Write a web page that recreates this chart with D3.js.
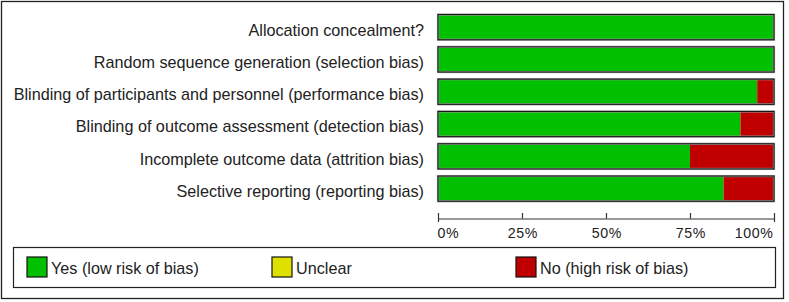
<!DOCTYPE html>
<html><head><meta charset="utf-8">
<script src="https://cdn.jsdelivr.net/npm/d3@7"></script>
<style>body{margin:0;background:#fff}svg{display:block}</style>
</head><body>
<svg id="c" width="789" height="302"></svg>
<script>
const categories = [
  "Allocation concealment?",
  "Random sequence generation (selection bias)",
  "Blinding of participants and personnel (performance bias)",
  "Blinding of outcome assessment (detection bias)",
  "Incomplete outcome data (attrition bias)",
  "Selective reporting (reporting bias)"
];
const yesValues = [100, 100, 95, 90, 75, 85];
const unclearValues = [0, 0, 0, 0, 0, 0];
const noValues = [0, 0, 5, 10, 25, 15];
const tickValues = [0, 25, 50, 75, 100];
const tickLabels = ["0%", "25%", "50%", "75%", "100%"];
const legendLabels = ["Yes (low risk of bias)", "Unclear", "No (high risk of bias)"];
const colors = ["#00c000", "#e0e000", "#c00000"];

const svg = d3.select("#c");
const font = "'Liberation Sans', Arial, sans-serif";

svg.append("rect").attr("x",1.5).attr("y",1.5).attr("width",782).attr("height",297)
  .attr("fill","#fff").attr("stroke","#222").attr("stroke-width",1.3);

const x = d3.scaleLinear().domain([0,100]).range([438, 774]);
const y = d3.scaleBand().domain(categories).range([11, 204.8]).paddingInner(0.22).paddingOuter(0.11);

const rows = categories.map((c,i)=>({c, parts:[yesValues[i], unclearValues[i], noValues[i]]}));
const g = svg.append("g");
rows.forEach(r=>{
  let acc = 0;
  r.parts.forEach((v,k)=>{
    if(v<=0) return;
    g.append("rect").attr("x",x(acc)).attr("y",y(r.c)).attr("width",x(acc+v)-x(acc)).attr("height",y.bandwidth())
      .attr("fill",colors[k]);
    acc += v;
  });
  g.append("rect").attr("x",x(0)).attr("y",y(r.c)).attr("width",x(100)-x(0)).attr("height",y.bandwidth())
    .attr("fill","none").attr("stroke","#9a9a9a").attr("stroke-width",2.2);
  g.append("rect").attr("x",x(0)).attr("y",y(r.c)).attr("width",x(100)-x(0)).attr("height",y.bandwidth())
    .attr("fill","none").attr("stroke","#111").attr("stroke-width",1);
});

svg.append("g").selectAll("text").data(categories).join("text")
  .attr("x",424).attr("y",d=>y(d)+y.bandwidth()/2 + 8.4)
  .attr("text-anchor","end").attr("font-family",font).attr("font-size",16.2)
  .attr("fill","#222").text(d=>d);

// axis
const axisY = 218.5;
const ax = svg.append("g").attr("transform",`translate(0,${axisY})`)
  .call(d3.axisBottom(x).tickValues(tickValues).tickSize(0).tickFormat((d,i)=>tickLabels[i]));
ax.select(".domain").attr("stroke","#333").attr("stroke-width",1.2);
ax.selectAll(".tick line").remove();
ax.selectAll(".tick").append("line").attr("y1",-5.5).attr("y2",d=>(d===0||d===100)?3.5:0).attr("stroke","#333").attr("stroke-width",1.2);
ax.selectAll(".tick text").attr("y",19.8).attr("dy",0).attr("font-family",font).attr("font-size",14.2)
  .attr("letter-spacing",0.6)
  .attr("fill","#222")
  .attr("text-anchor",d=>d===0?"start":(d===100?"end":"middle"))
  .attr("dx",d=>d===0?-1:(d===100?-1:0.3));
ax.attr("font-family",null).attr("font-size",null);

// legend
svg.append("rect").attr("x",13.5).attr("y",247.5).attr("width",762).attr("height",40)
  .attr("fill","#fff").attr("stroke","#222").attr("stroke-width",1.2);
const legX = [27, 272, 516];
const lg = svg.append("g").selectAll("g").data(legendLabels).join("g")
  .attr("transform",(d,i)=>`translate(${legX[i]},257)`);
lg.append("rect").attr("width",20).attr("height",20).attr("fill",(d,i)=>colors[i])
  .attr("stroke","#111").attr("stroke-width",1.2);
lg.append("text").attr("x",24).attr("y",17).attr("font-family",font)
  .attr("font-size",16.2).attr("fill","#222").text(d=>d);
</script>
</body></html>
